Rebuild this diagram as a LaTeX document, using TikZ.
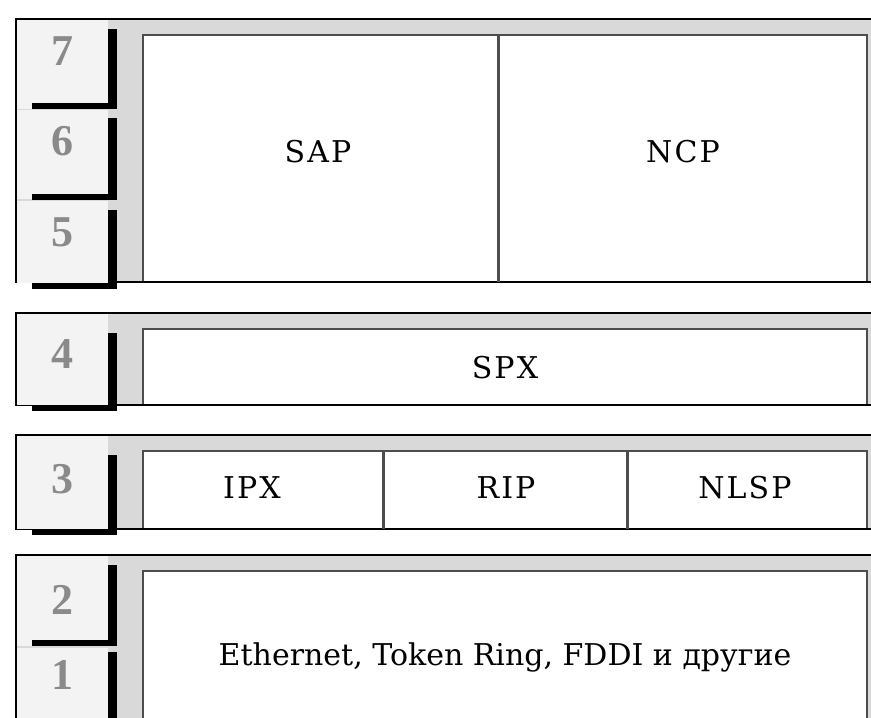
\documentclass[tikz,border=0pt]{standalone}
\usepackage{fontspec}
\setmainfont{DejaVu Serif}
\newfontfamily\digitfont{Liberation Serif}
\definecolor{bandgray}{HTML}{D9D9D9}
\definecolor{cellgray}{HTML}{F3F3F3}
\definecolor{boxline}{HTML}{4D4D4D}
\definecolor{numgray}{HTML}{8A8A8A}
\begin{document}
\begin{tikzpicture}[x=1pt, y=-1pt,
    band/.style={fill=bandgray},
    bandline/.style={draw=black, line width=1.5pt},
    inbox/.style={draw=boxline, line width=2pt, fill=white},
    divider/.style={draw=boxline, line width=3pt},
    num/.style={text=numgray, font=\digitfont\bfseries\fontsize{44}{44}\selectfont},
    proto/.style={font=\fontsize{30}{30}\selectfont\addfontfeature{LetterSpace=7}}]
    \useasboundingbox (0,0) rectangle (871,718);
    % Bands
    \foreach \t/\b in {19/282, 313/405, 435/529, 555/760} {
            \fill[band] (16,\t) rectangle (885,\b);
            \draw[inbox] (143,\t+16) rectangle (867,\b);
            \draw[bandline] (16,\t) rectangle (885,\b);
        }
    % Layer numbers
    \foreach \n/\t/\b/\s/\y in {7/20/109/29/51, 6/110/199/118/141, 5/201/283/210/232,
            4/314/405/333/354, 3/436/529/455/479, 2/556/646/565/600, 1/648/740/652/675} {
            \fill[cellgray] (17,\t) rectangle (108,\b);
        }
    \foreach \n/\b/\s/\y in {7/103/29/51, 6/194/118/141, 5/283/210/232,
            4/405/333/354, 3/529/455/479, 2/640/565/600, 1/740/652/675} {
            \fill[black] (108,\s) rectangle (117,\b+6);
            \fill[black] (32,\b) rectangle (117,\b+6);
            \node[num] (n\n) at (62,\y) {\n};
        }
    % Dividers
    \draw[divider] (498,35) -- (498,282);
    \draw[divider] (383,451) -- (383,529);
    \draw[divider] (627,451) -- (627,529);
    % Protocols
    \node[proto] (sap) at (318,152) {SAP};
    \node[proto] (ncp) at (683,152) {NCP};
    \node[proto] (spx) at (505,368) {SPX};
    \node[proto] (ipx) at (252,488) {IPX};
    \node[proto] (rip) at (506,488) {RIP};
    \node[proto] (nlsp) at (745,488) {NLSP};
    \node[font=\fontsize{30}{30}\selectfont] (phys) at (505,657) {Ethernet, Token Ring, FDDI и другие};
\end{tikzpicture}
\end{document}
